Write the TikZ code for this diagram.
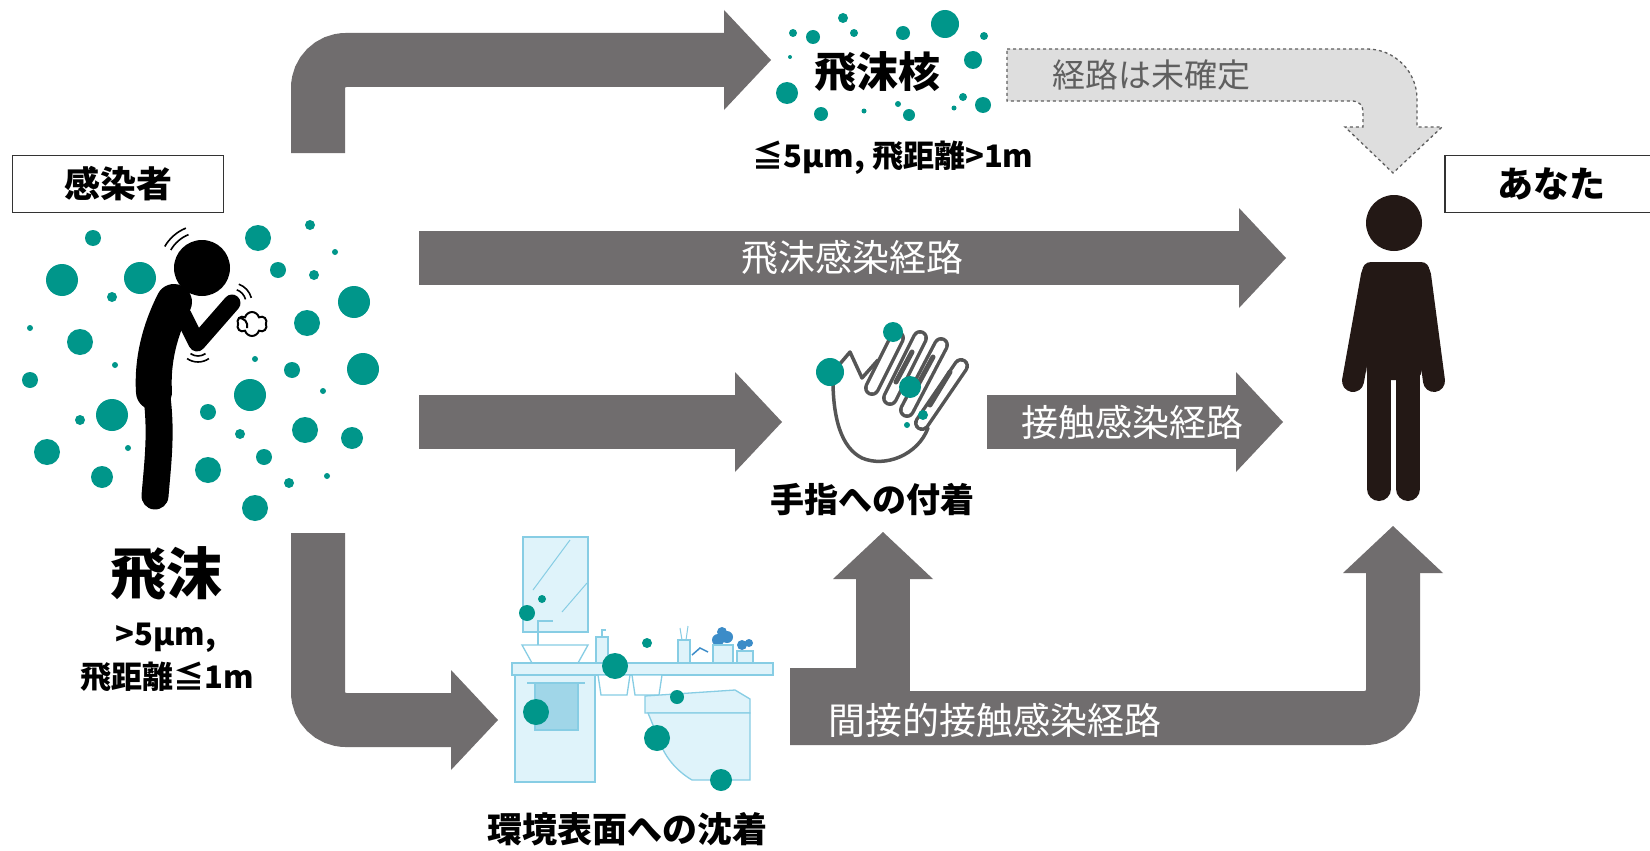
\documentclass[tikz,border=0pt]{standalone}
\usepackage{fontspec}
\setmainfont{Noto Sans CJK JP}
\usetikzlibrary{arrows.meta,shapes.symbols}

\definecolor{flowgray}{RGB}{112,109,110}
\definecolor{drop}{RGB}{0,150,138}
\definecolor{ink}{RGB}{35,24,21}
\definecolor{haze}{RGB}{222,222,222}
\definecolor{hazeline}{RGB}{95,95,95}
\definecolor{tile}{RGB}{223,243,250}
\definecolor{tileline}{RGB}{135,205,228}
\definecolor{towel}{RGB}{160,214,232}
\definecolor{leaf}{RGB}{60,140,200}
\definecolor{handline}{RGB}{85,85,85}

\newcommand\sz[1]{\fontsize{#1}{#1}\selectfont}

\tikzset{
  flow/.style={draw=flowgray, line width=54pt, rounded corners=28pt,
    -{Triangle[width=100pt,length=47pt,line width=0pt]}},
  flowtext/.style={text=white, font=\sz{37}},
  caption/.style={font=\bfseries\sz{34}},
  namebox/.style={draw=black!80, line width=1.6pt, minimum width=211pt,
    minimum height=57pt, font=\bfseries\sz{36}},
  tileshape/.style={draw=tileline, line width=1.3pt, fill=tile},
}

\begin{document}
\begin{tikzpicture}[x=1pt,y=-1pt]
\useasboundingbox[fill=white] (0,0) rectangle (1650,851);

% end points of the routes
\coordinate (coughup) at (318,153);
\coordinate (nucin) at (771,60);
\coordinate (dropstart) at (419,258);
\coordinate (dropend) at (1286,258);
\coordinate (handstart) at (419,422);
\coordinate (handin) at (782,422);
\coordinate (contactstart) at (987,422);
\coordinate (contactend) at (1283,422);
\coordinate (coughdown) at (318,533);
\coordinate (surfin) at (498,720);
\coordinate (indirect) at (790,718);
\coordinate (youfoot) at (1393,526);
\coordinate (liftstart) at (883,718);
\coordinate (liftend) at (883,532);

% routes
\draw[flow] (coughup) |- (nucin);
\draw[flow] (dropstart) -- (dropend) node[flowtext, pos=0.5]{飛沫感染経路};
\draw[flow] (handstart) -- (handin);
\draw[flow] (contactstart) -- (contactend) node[flowtext, pos=0.49]{接触感染経路};
\draw[flow] (coughdown) |- (surfin);
\draw[flow] (indirect) -| (youfoot);
\fill[flowgray] (790,668) rectangle (857,745);
\draw[flow] (liftstart) -- (liftend);
\node[flowtext] (indirectlbl) at (995,720) {間接的接触感染経路};

% unconfirmed route, dotted outline
\filldraw[fill=haze, draw=hazeline, line width=1.3pt, dash pattern=on 3pt off 3pt]
  (1007,49) -- (1367,49) .. controls (1394.6,49) and (1417,71.4) .. (1417,99)
  -- (1417,127) -- (1442,127) -- (1393,173) -- (1345,127) -- (1363,127)
  -- (1363,111) .. controls (1363,105.5) and (1358.5,101) .. (1353,101)
  -- (1007,101) -- cycle;
\node[text=hazeline, font=\sz{33}] (unsure) at (1151,75) {経路は未確定};

% labels
\node[namebox] (infected) at (118,184) {感染者};
\node[namebox, minimum width=212pt] (you) at (1551,184) {あなた};
\node[font=\bfseries\sz{42}] (nucleus) at (877,72) {飛沫核};
\node[font=\bfseries\sz{31}] (nucsize) at (893,158) {≦5μm, 飛距離>1m};
\node[font=\bfseries\sz{56}] (droplet) at (166,574) {飛沫};
\node[font=\bfseries\sz{31}] (dropsize) at (166,638) {>5μm,};
\node[font=\bfseries\sz{31}] (droprange) at (167,677) {飛距離≦1m};
\node[caption] (fingerlbl) at (872,500) {手指への付着};
\node[caption, font=\bfseries\sz{35}] (surface) at (627,829) {環境表面への沈着};

% droplet nuclei
\foreach \x/\y/\r in {793/33/4, 813/37/7, 843/18/5, 854/33/4, 903/33/7, 945/24/14,
    984/36/4, 973/60/9, 790/57/2, 787/93/11, 821/114/7, 864/111/2.5, 898/104/3,
    909/115/6, 963/97/4, 954/108/2.5, 983/105/8}
  \fill[drop] (\x,\y) circle[radius=\r];

% droplets around the coughing person
\foreach \x/\y/\r in {93/238/8, 62/280/16, 140/278/16, 112/297/5, 30/328/3, 80/342/13,
    115/365/3, 30/380/8, 112/415/16, 80/420/5, 47/452/13, 128/448/3, 102/477/11,
    258/238/13, 310/225/5, 335/252/3, 278/270/8, 314/275/5, 354/302/16, 307/323/13,
    255/359/3, 292/370/8, 363/369/16, 323/391/3, 250/395/16, 208/412/8, 240/434/5,
    305/430/13, 352/438/11, 264/457/8, 208/470/13, 289/483/5, 327/476/3, 255/508/13}
  \fill[drop] (\x,\y) circle[radius=\r];

% coughing person
\fill[black] (202,268) circle[radius=28];
\draw[black, line width=36pt, line cap=round] (174,302) .. controls (160,330) and (152,360) .. (154,392);
\draw[black, line width=27pt, line cap=round] (156,390) .. controls (162,430) and (158,460) .. (155,496);
\draw[black, line width=17pt, line cap=round, line join=round] (183,315) -- (197,343) -- (232,303);
\node[cloud, cloud puffs=6, aspect=1.3, draw, line width=2pt, fill=white,
  minimum width=30pt, minimum height=24pt, inner sep=0pt] (puff) at (252,324) {};
\draw[black, line width=2pt] (238,318) .. controls (245,318) and (248,322) .. (247,328);
\foreach \r in {36,43}
  \draw[black, line width=1.6pt] (202,268) ++(112:\r pt) arc[start angle=112, end angle=150, radius=\r pt];
\foreach \r in {14,20}
  \draw[black, line width=1.6pt] (232,303) ++(15:\r pt) arc[start angle=15, end angle=70, radius=\r pt];
\foreach \r in {13,19}
  \draw[black, line width=1.6pt] (198,343) ++(235:\r pt) arc[start angle=235, end angle=305, radius=\r pt];

% hand
\draw[handline, line width=3.5pt, line join=round, line cap=round]
  (928,428) .. controls (918,455) and (885,468) .. (862,458)
  .. controls (842,448) and (832,420) .. (833,372)
  -- (850,352) -- (862,378) -- (878,360);
\foreach \bx/\by/\tx/\ty in {872/388/897/338, 890/398/920/338, 907/410/941/345, 922/423/961/366} {
  \draw[handline, line width=16pt, line cap=round] (\bx,\by) -- (\tx,\ty);
  \draw[white, line width=9pt, line cap=round] (\bx,\by) -- (\tx,\ty);
}
\foreach \bx/\by/\tx/\ty in {896/382/912/352, 914/392/933/357, 930/405/950/372}
  \draw[handline, line width=5pt, line cap=round] (\bx,\by) -- (\tx,\ty);
\foreach \x/\y/\r in {830/372/14, 893/332/10, 910/387/11, 923/415/5, 907/425/3}
  \fill[drop] (\x,\y) circle[radius=\r];

% washroom
\filldraw[tileshape] (523,537) rectangle (588,632);
\draw[tileline, line width=1pt] (533,590) -- (570,540) (562,612) -- (587,583);
\draw[tileline, line width=2pt] (538,645) -- (538,621) -- (553,621);
\filldraw[tileshape, fill=white] (522,645) -- (588,645) -- (578,663) -- (532,663) -- cycle;
\filldraw[tileshape] (512,663) rectangle (773,675);
\filldraw[tileshape] (515,675) rectangle (595,782);
\draw[tileline, line width=2pt] (527,683) -- (585,683);
\filldraw[tileshape, fill=towel] (535,683) rectangle (578,730);
\filldraw[tileshape] (596,637) rectangle (608,663);
\draw[tileline, line width=1.5pt] (602,637) -- (602,630) -- (606,630);
\filldraw[tileshape, fill=white] (598,675) -- (630,675) -- (627,695) -- (601,695) -- cycle;
\filldraw[tileshape, fill=white] (632,675) -- (662,675) -- (659,695) -- (635,695) -- cycle;
\filldraw[tileshape] (678,640) rectangle (690,663);
\draw[tileline, line width=1pt] (682,640) -- (680,628) (686,640) -- (688,626);
\draw[leaf, line width=1.5pt] (692,655) -- (700,648) -- (708,652);
\fill[leaf] (718,640) circle[radius=6] (727,637) circle[radius=6] (722,632) circle[radius=5];
\filldraw[tileshape] (713,645) rectangle (733,663);
\fill[leaf] (742,645) circle[radius=5] (749,643) circle[radius=4];
\filldraw[tileshape] (737,651) rectangle (753,663);
\filldraw[tileshape] (645,696) -- (735,690) -- (750,699) -- (750,713) -- (645,713) -- cycle;
\filldraw[tileshape] (648,713) -- (750,713) -- (750,780) -- (692,780)
  .. controls (675,770) and (664,755) .. (660,742) -- cycle;
\foreach \x/\y/\r in {527/613/8, 542/599/4, 647/643/5, 615/666/13, 677/697/7,
    536/712/13, 657/738/13, 721/780/11}
  \fill[drop] (\x,\y) circle[radius=\r];

% the other person
\fill[ink] (1394,223) circle[radius=28];
\fill[ink, rounded corners=9pt] (1362,262) -- (1430,262) -- (1421,380) -- (1367,380) -- cycle;
\draw[ink, line width=22pt, line cap=round] (1372,275) -- (1353,381);
\draw[ink, line width=22pt, line cap=round] (1420,275) -- (1434,381);
\draw[ink, line width=24pt, line cap=round] (1379,365) -- (1379,489);
\draw[ink, line width=24pt, line cap=round] (1408,365) -- (1408,489);
\end{tikzpicture}
\end{document}
